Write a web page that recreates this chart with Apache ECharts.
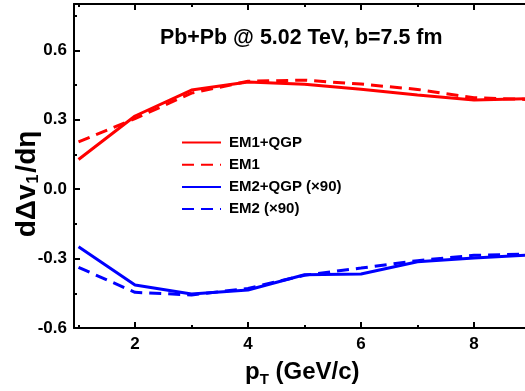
<!DOCTYPE html>
<html>
<head>
<meta charset="utf-8">
<script src="https://cdn.jsdelivr.net/npm/echarts@6/dist/echarts.min.js"></script>
<style>
  html, body { margin: 0; padding: 0; background: #fff; }
  #chart { width: 525px; height: 391px; }
</style>
</head>
<body>
<div id="chart"></div>
<script>
// pT grid (GeV/c)
const pT = [1, 2, 3, 4, 5, 6, 7, 8, 9];
// d(Delta v1)/d(eta)
const em1Qgp = [0.128, 0.316, 0.428, 0.463, 0.453, 0.432, 0.407, 0.385, 0.391];
const em1 = [0.204, 0.305, 0.415, 0.466, 0.471, 0.454, 0.431, 0.395, 0.387];
const em2Qgp = [-0.249, -0.414, -0.453, -0.436, -0.370, -0.367, -0.314, -0.298, -0.284];
const em2 = [-0.338, -0.446, -0.457, -0.429, -0.372, -0.341, -0.309, -0.286, -0.280];

const xMajor = [2, 4, 6, 8];
const xMinor = [1, 3, 5, 7, 9];
const yMajor = [-0.6, -0.3, 0, 0.3, 0.6];
const yMinor = [-0.45, -0.15, 0.15, 0.45, 0.75];

const FONT = 'Liberation Sans, Arial, sans-serif';
const chart = echarts.init(document.getElementById('chart'));

const pairs = (ys) => pT.map((x, i) => [x, ys[i]]);
const lineSeries = (name, ys, color, dashed) => ({
  name,
  type: 'line',
  xAxisIndex: 0,
  yAxisIndex: 0,
  data: pairs(ys),
  symbol: 'none',
  lineStyle: { color, width: 3, type: dashed ? [12, 7] : 'solid' },
  itemStyle: { color },
});

const xRange = { type: 'value', min: 0.92, max: 9, splitLine: { show: false } };
const yRange = { type: 'value', min: -0.6, max: 0.8, splitLine: { show: false } };
const blackLine = { show: true, onZero: false, lineStyle: { color: '#000', width: 2 } };
const noLine = { show: false, onZero: false };
const ticks = (vals, len) => ({ inside: true, length: len, lineStyle: { width: 2, color: '#000' }, customValues: vals });

chart.setOption({
  animation: false,
  // plot runs past the right edge of the picture, as in the original crop
  grid: { left: 74, top: 4, width: 456.5, height: 324, outerBoundsMode: 'none', containLabel: false },
  title: {
    text: 'Pb+Pb @ 5.02 TeV, b=7.5 fm',
    left: 160,
    top: 28,
    padding: 0,
    textStyle: { fontFamily: FONT, fontWeight: 'bold', fontSize: 21.4, color: '#000' },
  },
  legend: {
    orient: 'vertical',
    left: 176,
    top: 130,
    itemWidth: 39,
    itemHeight: 14,
    itemGap: 7.2,
    itemStyle: { opacity: 0 },
    textStyle: { fontFamily: FONT, fontWeight: 'bold', fontSize: 15, color: '#000', padding: [0, 0, 0, 3] },
    data: ['EM1+QGP', 'EM1', 'EM2+QGP (×90)', 'EM2 (×90)'],
  },
  xAxis: [
    {
      ...xRange,
      position: 'bottom',
      axisLine: blackLine,
      axisTick: ticks(xMajor, 6),
      axisLabel: { customValues: xMajor, margin: 8, fontFamily: FONT, fontWeight: 'bold', fontSize: 17, color: '#000' },
      name: '{a|p}{s|T}{a| (GeV/c)}',
      nameLocation: 'middle',
      nameGap: 30,
      nameTextStyle: {
        rich: {
          a: { fontFamily: FONT, fontWeight: 'bold', fontSize: 24, color: '#000' },
          s: { fontFamily: FONT, fontWeight: 'bold', fontSize: 15, color: '#000', padding: [14, 0, 0, 0] },
        },
      },
    },
    { ...xRange, position: 'bottom', axisLine: noLine, axisTick: ticks(xMinor, 3), axisLabel: { show: false } },
    { ...xRange, position: 'top', axisLine: blackLine, axisTick: ticks(xMajor, 6), axisLabel: { show: false } },
    { ...xRange, position: 'top', axisLine: noLine, axisTick: ticks(xMinor, 3), axisLabel: { show: false } },
  ],
  yAxis: [
    {
      ...yRange,
      position: 'left',
      axisLine: blackLine,
      axisTick: ticks(yMajor, 6),
      axisLabel: {
        customValues: yMajor,
        margin: 7,
        fontFamily: FONT, fontWeight: 'bold', fontSize: 17, color: '#000',
        formatter: (v) => v.toFixed(1),
      },
      name: '{a|dΔv}{s|1}{a|/dη}',
      nameLocation: 'middle',
      nameGap: 32,
      nameMoveOverlap: false,
      nameTextStyle: {
        padding: [0, 36, 0, 0],
        rich: {
          a: { fontFamily: FONT, fontWeight: 'bold', fontSize: 28, color: '#000' },
          s: { fontFamily: FONT, fontWeight: 'bold', fontSize: 16, color: '#000', padding: [14, 2, 0, 1] },
        },
      },
    },
    { ...yRange, position: 'left', axisLine: noLine, axisTick: ticks(yMinor, 3), axisLabel: { show: false } },
  ],
  series: [
    lineSeries('EM1+QGP', em1Qgp, '#ff0000', false),
    lineSeries('EM1', em1, '#ff0000', true),
    lineSeries('EM2+QGP (×90)', em2Qgp, '#0000ff', false),
    lineSeries('EM2 (×90)', em2, '#0000ff', true),
  ],
});
</script>
</body>
</html>
